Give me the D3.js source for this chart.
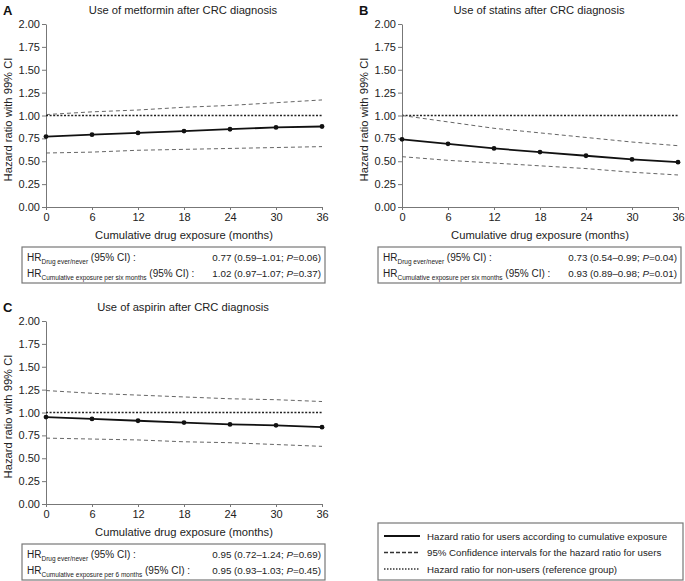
<!DOCTYPE html>
<html>
<head>
<meta charset="utf-8">
<script src="https://cdn.jsdelivr.net/npm/d3@7"></script>
<style>
  html, body { margin: 0; padding: 0; background: #fff; }
  svg { display: block; font-family: "Liberation Sans", Arial, Helvetica, sans-serif; }
</style>
</head>
<body>
<svg id="chart" width="685" height="581"></svg>
<script>
// ---------------- DATA ----------------
const months = [0, 6, 12, 18, 24, 30, 36];
const yTickValues = [0, 0.25, 0.5, 0.75, 1.0, 1.25, 1.5, 1.75, 2.0];
const referenceHR = [1, 1, 1, 1, 1, 1, 1];

const metforminHR    = [0.77, 0.79, 0.81, 0.83, 0.85, 0.87, 0.88];
const metforminLower = [0.59, 0.60, 0.62, 0.63, 0.64, 0.65, 0.66];
const metforminUpper = [1.01, 1.04, 1.06, 1.09, 1.11, 1.14, 1.17];

const statinsHR    = [0.74, 0.69, 0.64, 0.60, 0.56, 0.52, 0.49];
const statinsLower = [0.55, 0.51, 0.48, 0.45, 0.42, 0.38, 0.35];
const statinsUpper = [1.00, 0.93, 0.86, 0.81, 0.76, 0.71, 0.67];

const aspirinHR    = [0.95, 0.93, 0.91, 0.89, 0.87, 0.86, 0.84];
const aspirinLower = [0.72, 0.71, 0.70, 0.68, 0.67, 0.65, 0.63];
const aspirinUpper = [1.24, 1.21, 1.19, 1.17, 1.15, 1.14, 1.12];

const panelLetters = ["A", "B", "C"];
const panelTitles = [
  "Use of metformin after CRC diagnosis",
  "Use of statins after CRC diagnosis",
  "Use of aspirin after CRC diagnosis"
];
const xAxisTitle = "Cumulative drug exposure (months)";
const yAxisTitle = "Hazard ratio with 99% CI";

// stats box rows: [subscript, estimate text, p value]
const statsA = [
  ["Drug ever/never", "0.77 (0.59\u20131.01; ", "=0.06)"],
  ["Cumulative exposure per six months", "1.02 (0.97\u20131.07; ", "=0.37)"]
];
const statsB = [
  ["Drug ever/never", "0.73 (0.54\u20130.99; ", "=0.04)"],
  ["Cumulative exposure per six months", "0.93 (0.89\u20130.98; ", "=0.01)"]
];
const statsC = [
  ["Drug ever/never", "0.95 (0.72\u20131.24; ", "=0.69)"],
  ["Cumulative exposure per 6 months", "0.95 (0.93\u20131.03; ", "=0.45)"]
];

const legendLabels = [
  "Hazard ratio for users according to cumulative exposure",
  "95% Confidence intervals for the  hazard ratio for users",
  "Hazard ratio for non-users (reference group)"
];

// ---------------- DRAW ----------------
const svg = d3.select("#chart");
const textColor = "#222";
const axisColor = "#777";

const panels = [
  { letter: panelLetters[0], title: panelTitles[0], hr: metforminHR, lo: metforminLower, up: metforminUpper, stats: statsA, ox: 0,   oy: 0 },
  { letter: panelLetters[1], title: panelTitles[1], hr: statinsHR,   lo: statinsLower,   up: statinsUpper,   stats: statsB, ox: 356, oy: 0 },
  { letter: panelLetters[2], title: panelTitles[2], hr: aspirinHR,   lo: aspirinLower,   up: aspirinUpper,   stats: statsC, ox: 0,   oy: 297 }
];

const plotL = 46, plotR = 322, plotT = 24, plotB = 207;

panels.forEach(p => {
  const g = svg.append("g").attr("transform", `translate(${p.ox},${p.oy})`);
  const x = d3.scaleLinear().domain([0, 36]).range([plotL, plotR]);
  const y = d3.scaleLinear().domain([0, 2]).range([plotB, plotT]);

  g.append("text").attr("x", 3).attr("y", 15)
    .attr("font-size", 13).attr("font-weight", "bold").attr("fill", "#111").text(p.letter);
  g.append("text").attr("x", 183).attr("y", 14)
    .attr("text-anchor", "middle").attr("font-size", 11.2).attr("fill", textColor).text(p.title);

  const yAxis = d3.axisLeft(y).tickValues(yTickValues).tickFormat(d3.format(".2f")).tickSize(4).tickSizeOuter(0);
  const ya = g.append("g").attr("transform", `translate(${plotL},0)`).call(yAxis);
  const xAxis = d3.axisBottom(x).tickValues(months).tickSize(3).tickSizeOuter(0);
  const xa = g.append("g").attr("transform", `translate(0,${plotB})`).call(xAxis);
  [ya, xa].forEach(a => {
    a.select(".domain").attr("stroke", axisColor);
    a.selectAll(".tick line").attr("stroke", axisColor);
    a.selectAll(".tick text").attr("fill", textColor).attr("font-size", 11)
      .attr("font-family", "'Liberation Sans', Arial, sans-serif");
  });
  ya.selectAll(".tick text").attr("x", -6);
  xa.selectAll(".tick text").attr("y", 6);

  g.append("text").attr("transform", `translate(12,${(plotT + plotB) / 2 + 4}) rotate(-90)`)
    .attr("text-anchor", "middle").attr("font-size", 11.2).attr("fill", textColor).text(yAxisTitle);
  g.append("text").attr("x", 184).attr("y", 239)
    .attr("text-anchor", "middle").attr("font-size", 11.2).attr("fill", textColor).text(xAxisTitle);

  const line = d3.line().x((d, i) => x(months[i])).y(d => y(d));

  g.append("path").datum(referenceHR).attr("d", line)
    .attr("fill", "none").attr("stroke", "#222").attr("stroke-width", 1.6).attr("stroke-dasharray", "2,1.6");
  [p.lo, p.up].forEach(arr => {
    g.append("path").datum(arr).attr("d", line)
      .attr("fill", "none").attr("stroke", "#666").attr("stroke-width", 1).attr("stroke-dasharray", "4,3");
  });
  g.append("path").datum(p.hr).attr("d", line)
    .attr("fill", "none").attr("stroke", "#111").attr("stroke-width", 1.8);
  g.selectAll("circle.pt").data(p.hr).enter().append("circle")
    .attr("cx", (d, i) => x(months[i])).attr("cy", d => y(d)).attr("r", 2.4).attr("fill", "#111");

  const bx = 22, by = 247, bw = 303, bh = 36;
  g.append("rect").attr("x", bx).attr("y", by).attr("width", bw).attr("height", bh)
    .attr("fill", "none").attr("stroke", axisColor).attr("stroke-width", 1.2);
  p.stats.forEach((row, i) => {
    const yy = by + 14 + i * 15.5;
    const t = g.append("text").attr("x", bx + 5).attr("y", yy).attr("font-size", 10).attr("fill", textColor);
    t.append("tspan").text("HR");
    t.append("tspan").attr("dy", 3).attr("font-size", 6.5).text(row[0]);
    t.append("tspan").attr("dy", -3).attr("font-size", 10).text(" (95% CI) :");
    const v = g.append("text").attr("x", bx + bw - 4).attr("y", yy).attr("text-anchor", "end")
      .attr("font-size", 9.8).attr("fill", textColor);
    v.append("tspan").text(row[1]);
    v.append("tspan").attr("font-style", "italic").text("P");
    v.append("tspan").text(row[2]);
  });
});

const lg = svg.append("g");
const lx = 378, lyTop = 523, lw = 305, lh = 57;
lg.append("rect").attr("x", lx).attr("y", lyTop).attr("width", lw).attr("height", lh)
  .attr("fill", "none").attr("stroke", axisColor).attr("stroke-width", 1.2);
const legendStyles = [
  { stroke: "#111", width: 1.8, dash: null },
  { stroke: "#333", width: 1.3, dash: "4,2" },
  { stroke: "#333", width: 1.3, dash: "1.5,1.5" }
];
legendLabels.forEach((lab, i) => {
  const yy = lyTop + 13 + i * 16.5;
  const s = legendStyles[i];
  const ln = lg.append("line").attr("x1", lx + 6).attr("x2", lx + 42).attr("y1", yy).attr("y2", yy)
    .attr("stroke", s.stroke).attr("stroke-width", s.width);
  if (s.dash) ln.attr("stroke-dasharray", s.dash);
  lg.append("text").attr("x", lx + 49).attr("y", yy + 3.5).attr("font-size", 9.7)
    .attr("fill", textColor).text(lab);
});
</script>
</body>
</html>
